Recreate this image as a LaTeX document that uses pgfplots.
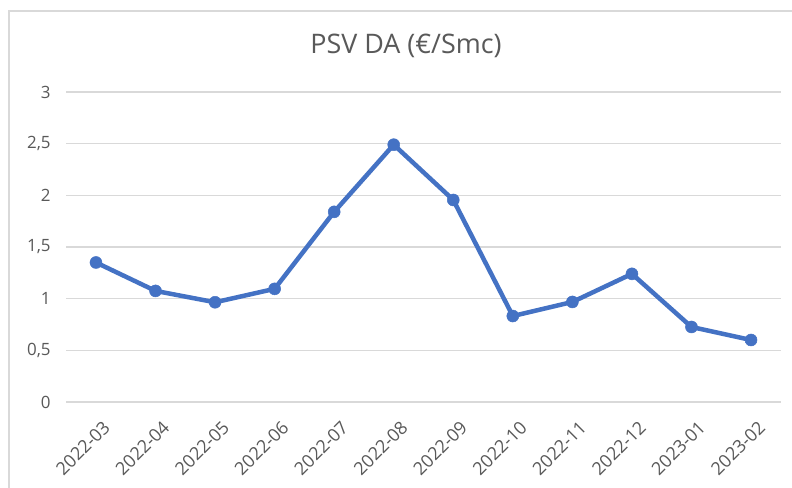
\documentclass[border=0pt]{standalone}
\usepackage{pgfplots}
\pgfplotsset{compat=1.18}
\usepackage{fontspec}
\setmainfont{Open Sans}
\definecolor{linecol}{HTML}{4472C4}
\definecolor{gridcol}{HTML}{D9D9D9}
\definecolor{txtcol}{HTML}{595959}
\begin{document}
\begin{tikzpicture}[x=1bp,y=1bp]
\useasboundingbox (0,0) rectangle (792,488);
\fill[white] (0,0) rectangle (792,488);
\draw[gridcol, line width=1.2bp] (9,0) -- (9,477) -- (792,477);
\node[txtcol, font=\fontsize{27}{32}\selectfont] at (406,442) {PSV DA (€/Smc)};
\begin{axis}[
  at={(66.2bp,86bp)}, anchor=south west,
  scale only axis, width=714.6bp, height=310bp,
  xmin=-0.5, xmax=11.5, ymin=0, ymax=3,
  axis line style={draw=none},
  ymajorgrids, grid style={gridcol, line width=1.2bp},
  ytick={0,0.5,1,1.5,2,2.5,3},
  xtick={0,...,11},
  xticklabels={2022-03,2022-04,2022-05,2022-06,2022-07,2022-08,2022-09,2022-10,2022-11,2022-12,2023-01,2023-02},
  xticklabel style={xshift=6bp, yshift=-16bp, rotate=45, anchor=north east, font=\fontsize{18}{20}\selectfont, text=txtcol, inner sep=1bp},
  yticklabel style={font=\fontsize{17}{20}\selectfont, text=txtcol, xshift=-12bp},
  /pgf/number format/assume math mode=true,
  /pgf/number format/use comma,
  major tick length=0pt,
  clip=false,
]
\addplot[linecol, line width=4.5bp, mark=*, mark size=6bp, mark options={fill=linecol, draw=linecol, line width=0.5bp}, line join=round]
coordinates {(0,1.35) (1,1.075) (2,0.965) (3,1.095) (4,1.84) (5,2.49) (6,1.955) (7,0.832) (8,0.968) (9,1.24) (10,0.726) (11,0.60)};
\end{axis}
\end{tikzpicture}
\end{document}
